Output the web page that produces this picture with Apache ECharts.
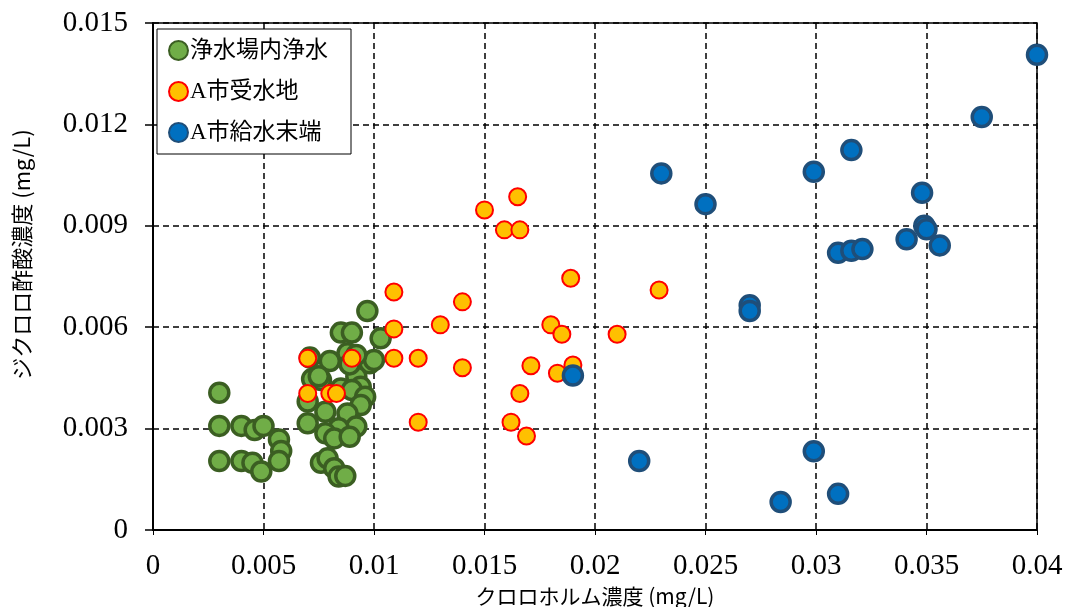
<!DOCTYPE html>
<html>
<head>
<meta charset="utf-8">
<script src="https://cdn.jsdelivr.net/npm/echarts@6/dist/echarts.min.js"></script>
<style>
html, body { margin: 0; padding: 0; background: #fff; }
#chart { width: 1070px; height: 607px; }
</style>
</head>
<body>
<div id="chart"></div>
<script>
// 凡例
var seriesNames = ['浄水場内浄水', 'A市受水地', 'A市給水末端'];

// 浄水場内浄水 [クロロホルム, ジクロロ酢酸]
var plantData = [
	[0.0030, 0.00406], [0.0030, 0.00308], [0.0040, 0.00308], [0.0046, 0.00296], [0.0050, 0.00308],
	[0.0057, 0.00268], [0.0058, 0.00234], [0.0057, 0.00204], [0.0030, 0.00204], [0.0040, 0.00204],
	[0.0045, 0.00199], [0.0049, 0.00173],
	[0.0097, 0.00648], [0.0085, 0.00584], [0.0090, 0.00584], [0.0103, 0.00567], [0.0080, 0.00500],
	[0.0098, 0.00493], [0.0100, 0.00503], [0.0088, 0.00523], [0.0092, 0.00518], [0.0072, 0.00447],
	[0.0076, 0.00444], [0.0092, 0.00454], [0.0094, 0.00424], [0.0085, 0.00419], [0.0090, 0.00414],
	[0.0096, 0.00394], [0.0070, 0.00380], [0.0094, 0.00370], [0.0078, 0.00350], [0.0088, 0.00345],
	[0.0070, 0.00316], [0.0092, 0.00306], [0.0084, 0.00301], [0.0078, 0.00286], [0.0082, 0.00271],
	[0.0089, 0.00276], [0.0076, 0.00199], [0.0079, 0.00212], [0.0082, 0.00183], [0.0084, 0.00158],
	[0.0087, 0.00160], [0.0075, 0.00455], [0.0071, 0.00510], [0.0089, 0.00490]
];

// A市受水地
var receiveData = [
	[0.0165, 0.00986], [0.0150, 0.00947], [0.0159, 0.00888], [0.0166, 0.00888], [0.0189, 0.00745],
	[0.0229, 0.00710], [0.0109, 0.00704], [0.0140, 0.00675], [0.0130, 0.00607], [0.0109, 0.00595],
	[0.0180, 0.00607], [0.0185, 0.00579], [0.0210, 0.00579], [0.0109, 0.00508], [0.0120, 0.00508],
	[0.0140, 0.00480], [0.0171, 0.00486], [0.0190, 0.00488], [0.0183, 0.00464], [0.0166, 0.00404],
	[0.0120, 0.00319], [0.0162, 0.00319], [0.0169, 0.00278], [0.0070, 0.00508], [0.0090, 0.00508],
	[0.0070, 0.00404], [0.0080, 0.00404], [0.0083, 0.00404]
];

// A市給水末端
var endData = [
	[0.0400, 0.01406], [0.0375, 0.01222], [0.0316, 0.01124], [0.0230, 0.01055], [0.0299, 0.01060],
	[0.0250, 0.00964], [0.0348, 0.00998], [0.0349, 0.00900], [0.0350, 0.00890], [0.0341, 0.00860],
	[0.0356, 0.00842], [0.0310, 0.00820], [0.0316, 0.00826], [0.0321, 0.00831], [0.0270, 0.00665],
	[0.0270, 0.00648], [0.0220, 0.00204], [0.0299, 0.00233], [0.0284, 0.00083], [0.0310, 0.00107],
	[0.0190, 0.00457]
];

var xTicks = { min: 0, max: 0.04, interval: 0.005 };
var yTicks = { min: 0, max: 0.015, interval: 0.003 };

var font = '"Liberation Serif", "Noto Sans CJK JP", serif';
var jpFont = '"Noto Sans CJK JP", sans-serif';

var myChart = echarts.init(document.getElementById('chart'));

var option = {
	animation: false,
	backgroundColor: '#fff',
	grid: {
		left: 153,
		right: 33,
		top: 23,
		bottom: 77,
		outerBoundsMode: 'none',
		containLabel: false,
		show: true,
		borderColor: '#000',
		borderWidth: 1.5
	},
	legend: {
		data: seriesNames,
		orient: 'vertical',
		left: 157,
		top: 29,
		padding: [10, 23, 10, 11],
		itemGap: 18,
		itemWidth: 19,
		itemHeight: 19,
		backgroundColor: '#fff',
		borderColor: '#000',
		borderWidth: 1,
		borderRadius: 0,
		textStyle: {
			fontFamily: font,
			fontSize: 23,
			color: '#000',
			padding: [0, 0, 0, -3]
		}
	},
	xAxis: {
		type: 'value',
		min: xTicks.min,
		max: xTicks.max,
		interval: xTicks.interval,
		name: 'クロロホルム濃度 (mg/L)',
		nameLocation: 'middle',
		nameGap: 54,
		nameTextStyle: {
			fontFamily: jpFont,
			fontSize: 21,
			color: '#000'
		},
		axisLine: { lineStyle: { color: '#000', width: 2 } },
		axisTick: { show: true, length: 5, inside: false, lineStyle: { color: '#000' } },
		axisLabel: {
			fontFamily: font,
			fontSize: 29,
			color: '#000',
			margin: 22,
			formatter: function(v) { return String(parseFloat(v.toFixed(4))); }
		},
		splitLine: { show: true, lineStyle: { color: '#000', type: [6, 4], width: 1.5 } }
	},
	yAxis: {
		type: 'value',
		min: yTicks.min,
		max: yTicks.max,
		interval: yTicks.interval,
		name: 'ジクロロ酢酸濃度 (mg/L)',
		nameLocation: 'middle',
		nameGap: 120,
		nameRotate: 90,
		nameTextStyle: {
			fontFamily: jpFont,
			fontSize: 22,
			color: '#000',
			padding: [0, 0, 0, 44]
		},
		axisLine: { show: true, lineStyle: { color: '#000', width: 2 } },
		axisTick: { show: true, length: 8, inside: false, lineStyle: { color: '#000', width: 1.5 } },
		axisLabel: {
			fontFamily: font,
			fontSize: 29,
			color: '#000',
			margin: 25,
			formatter: function(v) { return String(parseFloat(v.toFixed(4))); }
		},
		splitLine: { show: true, lineStyle: { color: '#000', type: [6, 4], width: 1.5 } }
	},
	series: [
		{
			name: seriesNames[0],
			type: 'scatter',
			data: plantData,
			symbol: 'circle',
			symbolSize: 19,
			itemStyle: {
				color: '#70ad47',
				borderColor: '#3b5e22',
				borderWidth: 3.5,
				opacity: 1
			}
		},
		{
			name: seriesNames[1],
			type: 'scatter',
			data: receiveData,
			symbol: 'circle',
			symbolSize: 17,
			itemStyle: {
				color: '#ffc000',
				borderColor: '#ff0000',
				borderWidth: 2,
				opacity: 1
			}
		},
		{
			name: seriesNames[2],
			type: 'scatter',
			data: endData,
			symbol: 'circle',
			symbolSize: 19,
			itemStyle: {
				color: '#0070c0',
				borderColor: '#1f4e79',
				borderWidth: 3.5,
				opacity: 1
			}
		}
	]
};

myChart.setOption(option, true);
</script>
</body>
</html>
